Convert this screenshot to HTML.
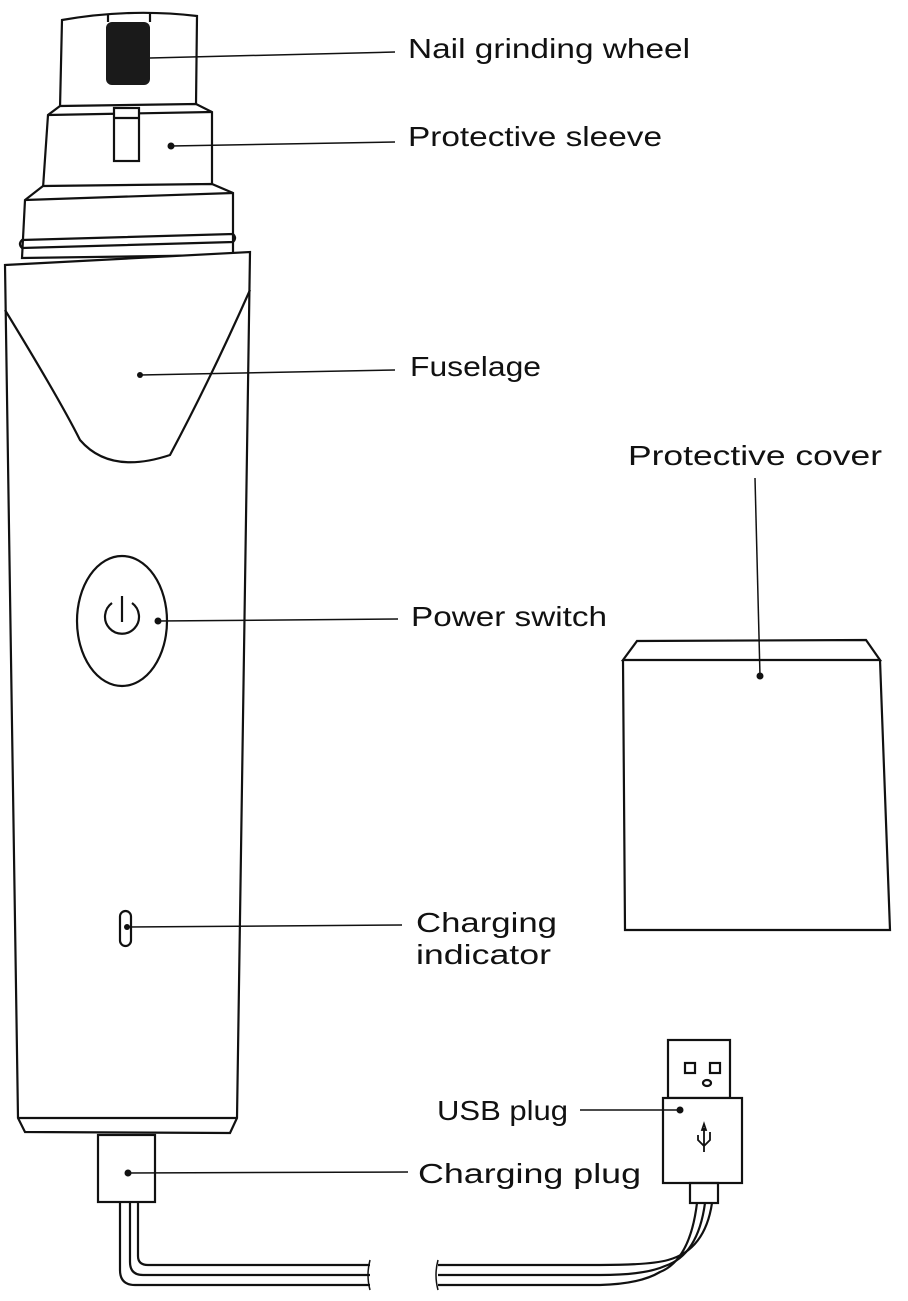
<!DOCTYPE html>
<html><head><style>
body{margin:0;background:#fff;width:908px;height:1296px;overflow:hidden}
svg text{font-family:"Liberation Sans",sans-serif;font-size:28px;fill:#111}
</style></head><body>
<svg width="908" height="1296" viewBox="0 0 908 1296" fill="none" stroke="#111" stroke-width="2.2">
<!-- head cap -->
<path d="M60 108 L62 20 Q130 8 197 16 L196 105 Z" fill="#fff"/>
<rect x="106" y="22" width="44" height="63" rx="6" fill="#1a1a1a" stroke="none"/>
<line x1="108" y1="14" x2="108" y2="22"/><line x1="150" y1="12" x2="150" y2="22"/>
<!-- sleeve -->
<path d="M60 106 L48 115 L43 188 L212 184 L212 112 L196 104 Z" fill="#fff"/>
<line x1="48" y1="115" x2="212" y2="112"/>
<rect x="114" y="108" width="25" height="53" fill="#fff"/>
<line x1="114" y1="118" x2="139" y2="118"/>
<!-- collar -->
<path d="M43 186 L25 200 L22 258 L233 255 L233 193 L212 184 Z" fill="#fff"/>
<line x1="25" y1="200" x2="233" y2="193"/>
<path d="M22 240 Q18 244 22 248 L233 242 Q237 238 233 234 Z"/>
<!-- body -->
<path d="M5 265 L250 252 L237 1118 L230 1133 L25 1132 L18 1118 Z" fill="#fff"/>
<path d="M5 310 Q60 400 80 440 Q110 475 170 455 Q210 380 250 290"/>
<line x1="18" y1="1118" x2="237" y2="1118"/>
<ellipse cx="122" cy="621" rx="45" ry="65"/>
<path d="M112 603 A17 17 0 1 0 132 603"/><line x1="122" y1="596" x2="122" y2="622"/>
<rect x="120" y="911" width="11" height="35" rx="5.5"/>
<!-- charging plug -->
<rect x="98" y="1135" width="57" height="67" fill="#fff"/>
<path d="M120 1202 V1270 Q120 1285 135 1285 H370"/>
<path d="M130 1202 V1262 Q130 1275 143 1275 H370"/>
<path d="M138 1202 V1256 Q138 1265 148 1265 H370"/>
<path d="M370 1260 Q366 1275 370 1290" stroke-width="1.5"/>
<!-- usb -->
<rect x="668" y="1040" width="62" height="58"/>
<rect x="685" y="1063" width="10" height="10"/><rect x="710" y="1063" width="10" height="10"/>
<ellipse cx="707" cy="1083" rx="4" ry="3"/>
<rect x="663" y="1098" width="79" height="85" fill="#fff"/>
<path d="M704 1128 V1152 M698 1135 V1140 L704 1146 L710 1140 V1132 M704 1124 L702 1130 H706 Z" stroke-width="1.8"/>
<rect x="690" y="1183" width="28" height="20"/>
<path d="M697 1203 Q690 1260 660 1272 Q640 1284 600 1285 H438"/>
<path d="M705 1203 Q698 1255 665 1266 Q645 1275 600 1275 H438"/>
<path d="M712 1203 Q705 1250 668 1260 Q650 1265 600 1265 H438"/>
<path d="M438 1260 Q434 1275 438 1290" stroke-width="1.5"/>
<!-- cover -->
<path d="M623 660 L637 641 L866 640 L880 660 Z" fill="#fff"/>
<path d="M623 660 L625 930 L890 930 L880 660"/>
<!-- leaders -->
<g stroke-width="1.5">
<line x1="150" y1="58" x2="395" y2="52"/>
<line x1="171" y1="146" x2="395" y2="142"/>
<line x1="140" y1="375" x2="395" y2="370"/>
<line x1="158" y1="621" x2="398" y2="619"/>
<line x1="127" y1="927" x2="402" y2="925"/>
<line x1="128" y1="1173" x2="408" y2="1172"/>
<line x1="580" y1="1110" x2="680" y2="1110"/>
<line x1="755" y1="478" x2="760" y2="676"/>
</g>
<g fill="#111" stroke="none">
<circle cx="171" cy="146" r="3.5"/><circle cx="140" cy="375" r="3"/>
<circle cx="158" cy="621" r="3.5"/><circle cx="127" cy="927" r="3"/>
<circle cx="128" cy="1173" r="3.5"/><circle cx="680" cy="1110" r="3.5"/>
<circle cx="760" cy="676" r="3.5"/>
</g>
<g stroke="none">
<text x="408" y="58" textLength="282" lengthAdjust="spacingAndGlyphs">Nail grinding wheel</text>
<text x="408" y="146" textLength="254" lengthAdjust="spacingAndGlyphs">Protective sleeve</text>
<text x="410" y="376" textLength="131" lengthAdjust="spacingAndGlyphs">Fuselage</text>
<text x="628" y="465" textLength="254" lengthAdjust="spacingAndGlyphs">Protective cover</text>
<text x="411" y="626" textLength="196" lengthAdjust="spacingAndGlyphs">Power switch</text>
<text x="416" y="932" textLength="141" lengthAdjust="spacingAndGlyphs">Charging</text>
<text x="416" y="964" textLength="135" lengthAdjust="spacingAndGlyphs">indicator</text>
<text x="437" y="1120" textLength="131" lengthAdjust="spacingAndGlyphs">USB plug</text>
<text x="418" y="1183" textLength="223" lengthAdjust="spacingAndGlyphs">Charging plug</text>
</g>
</svg>
</body></html>
